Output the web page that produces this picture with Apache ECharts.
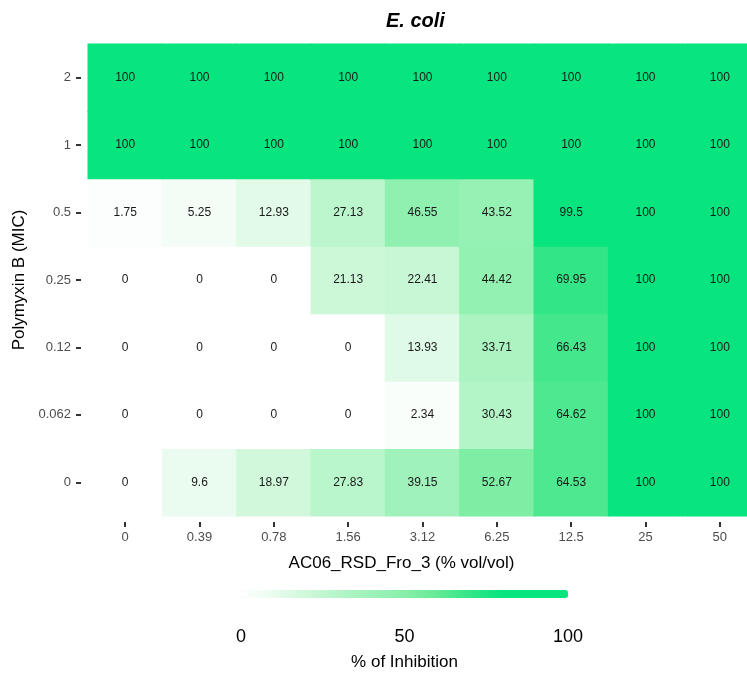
<!DOCTYPE html>
<html>
<head>
<meta charset="utf-8">
<script src="https://cdn.jsdelivr.net/npm/echarts@6/dist/echarts.min.js"></script>
<style>
html,body{margin:0;padding:0;background:#fff;overflow:hidden;width:747px;height:675px;}
#c{width:780px;height:675px;}
</style>
</head>
<body>
<div id="c"></div>
<script>
var xCats = ['0', '0.39', '0.78', '1.56', '3.12', '6.25', '12.5', '25', '50'];
var yCats = ['0', '0.062', '0.12', '0.25', '0.5', '1', '2'];
var row_0     = [0, 9.6, 18.97, 27.83, 39.15, 52.67, 64.53, 100, 100];
var row_0062  = [0, 0, 0, 0, 2.34, 30.43, 64.62, 100, 100];
var row_012   = [0, 0, 0, 0, 13.93, 33.71, 66.43, 100, 100];
var row_025   = [0, 0, 0, 21.13, 22.41, 44.42, 69.95, 100, 100];
var row_05    = [1.75, 5.25, 12.93, 27.13, 46.55, 43.52, 99.5, 100, 100];
var row_1     = [100, 100, 100, 100, 100, 100, 100, 100, 100];
var row_2     = [100, 100, 100, 100, 100, 100, 100, 100, 100];
var rows = [row_0, row_0062, row_012, row_025, row_05, row_1, row_2];
var legendTicks = [0, 50, 100];

var data = [];
rows.forEach(function (r, yi) {
  r.forEach(function (v, xi) { data.push([xi, yi, v]); });
});

var font = '"Liberation Sans", Arial, sans-serif';
var chart = echarts.init(document.getElementById('c'), null, {renderer: 'canvas'});

function renderCell(params, api) {
  var c = api.coord([api.value(0), api.value(1)]);
  var s = api.size([1, 1]);
  var w = s[0], h = s[1];
  return {
    type: 'group',
    children: [{
      type: 'rect',
      shape: {x: c[0] - w / 2 - 0.5, y: c[1] - h / 2 - 0.5, width: w + 1, height: h + 1},
      style: {fill: api.visual('color')},
      silent: true
    }, {
      type: 'text',
      x: c[0], y: c[1],
      style: {text: String(api.value(2)), fill: '#1a1a1a', font: '12px ' + font,
              align: 'center', verticalAlign: 'middle'},
      z2: 10, silent: true
    }]
  };
}

chart.setOption({
  animation: false,
  backgroundColor: '#ffffff',
  title: {
    text: 'E. coli',
    left: 386, top: 11, padding: 0,
    textStyle: {fontFamily: font, fontStyle: 'italic', fontWeight: 'bold', fontSize: 20, color: '#000'}
  },
  grid: [
    {left: 88, top: 44, width: 669, height: 472},
    {left: 241, top: 590, width: 327, height: 8}
  ],
  xAxis: [{
    type: 'category', data: xCats, gridIndex: 0, offset: 6,
    axisLine: {show: false},
    axisTick: {show: true, alignWithLabel: true, length: 5, lineStyle: {color: '#333', width: 2}},
    axisLabel: {margin: 9, fontFamily: font, fontSize: 13, color: '#4d4d4d'},
    splitLine: {show: false},
    name: 'AC06_RSD_Fro_3 (% vol/vol)', nameLocation: 'middle', nameGap: 33,
    nameTextStyle: {fontFamily: font, fontSize: 17, color: '#000', padding: [0, 42, 0, 0]}
  }, {
    type: 'value', gridIndex: 1, min: 0, max: 100, interval: 50,
    axisLine: {show: false}, axisTick: {show: false}, splitLine: {show: false},
    axisLabel: {margin: 30, fontFamily: font, fontSize: 18, color: '#000',
      customValues: legendTicks},
    name: '% of Inhibition', nameLocation: 'middle', nameGap: 56,
    nameTextStyle: {fontFamily: font, fontSize: 17, color: '#000'}
  }],
  yAxis: [{
    type: 'category', data: yCats, gridIndex: 0, offset: 7,
    axisLine: {show: false},
    axisTick: {show: true, alignWithLabel: true, length: 5, lineStyle: {color: '#333', width: 2}},
    axisLabel: {margin: 10, fontFamily: font, fontSize: 13, color: '#4d4d4d'},
    splitLine: {show: false},
    name: 'Polymyxin B (MIC)', nameLocation: 'middle', nameGap: 45, nameRotate: 90,
    nameTextStyle: {fontFamily: font, fontSize: 17, color: '#000'}
  }, {
    type: 'value', gridIndex: 1, show: false, min: 0, max: 1
  }],
  visualMap: {
    type: 'continuous', seriesIndex: 0, dimension: 2, min: 0, max: 100,
    orient: 'horizontal', left: 241, top: 590, padding: 0,
    itemWidth: 8, itemHeight: 327, calculable: false, hoverLink: false,
    text: null, showLabel: false,
    inRange: {color: ['#ffffff', '#e9fcee', '#cff8da', '#b4f5c8', '#9df2b9',
                      '#87efaa', '#64ea96', '#32e687', '#08e47e', '#08e47e', '#08e47e']}
  },
  series: [{
    type: 'custom', xAxisIndex: 0, yAxisIndex: 0, data: data,
    encode: {x: 0, y: 1},
    renderItem: renderCell,
    clip: false
  }, {
    type: 'scatter', xAxisIndex: 1, yAxisIndex: 1, data: [], silent: true
  }]
});
</script>
</body>
</html>
